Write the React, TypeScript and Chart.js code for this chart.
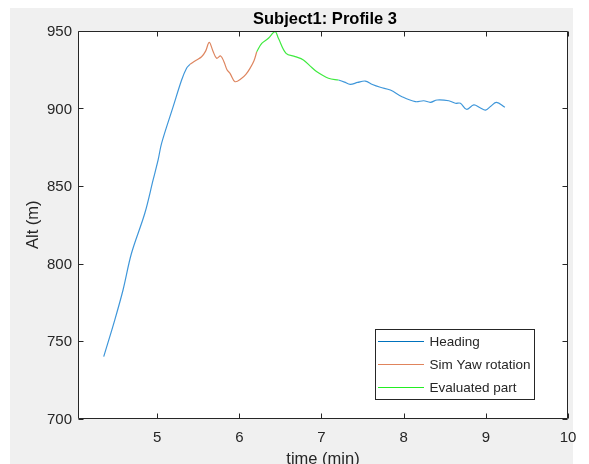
import React, { useEffect, useRef } from "react";
import { Chart, registerables } from "chart.js";
Chart.register(...registerables);

// ---- data (time in minutes, altitude in metres) ----
const headingTime = [
  4.35, 4.484, 4.585, 4.688, 4.85, 4.951, 5.012, 5.054, 5.195, 5.298, 5.358, 5.4,
  6.7,
  7.207, 7.28, 7.35, 7.44, 7.533, 7.62, 7.716, 7.838, 7.98, 8.143, 8.244, 8.326, 8.407, 8.549,
  8.63, 8.691, 8.765, 8.854, 8.93, 8.996, 9.06, 9.13, 9.232,
];
const headingAlt: (number | null)[] = [
  739.9, 763.5, 782.9, 806.6, 832.4, 853.9, 866.8, 877.5, 901.2, 918.4, 926, 928.5,
  null,
  918.4, 917, 915.6, 916.8, 917.7, 915.5, 913.7, 911.9, 907.6, 904.4, 905, 904, 905.5, 905,
  903.4, 903.4, 899.5, 902.3, 900.5, 899, 901.5, 904, 900.8,
];
const simYawTime = [
  5.4, 5.47, 5.541, 5.59, 5.634, 5.68, 5.724, 5.773, 5.813, 5.85, 5.887, 5.948, 6.029, 6.08,
  6.13, 6.18, 6.212,
];
const simYawAlt = [
  928.5, 931, 933.4, 937, 942.7, 937, 932.4, 933.9, 930.2, 925, 922.7, 917.3, 919.5, 922,
  925.9, 931, 936.6,
];
const evalTime = [
  6.212, 6.273, 6.354, 6.435, 6.476, 6.569, 6.68, 6.78, 6.86, 6.944, 7.085, 7.207,
];
const evalAlt = [
  936.6, 942, 945.3, 949.6, 945.3, 935.6, 933.5, 931.3, 927.5, 923.7, 919.5, 918.4,
];
const xTicks = [5, 6, 7, 8, 9, 10];
const yTicks = [700, 750, 800, 850, 900, 950];
const seriesNames = ["Heading", "Sim Yaw rotation", "Evaluated part"];
const legendColors = ["#0072BD", "#E0845C", "#22EE22"];
const curveColors = ["#3F97DA", "#DE8660", "#3FEA3F"];
const titleText = "Subject1: Profile 3";
const xLabel = "time (min)";
const yLabel = "Alt (m)";

const FONT = '"Liberation Sans", Arial, sans-serif';
const AXIS_COLOR = "#262626";

export default function App() {
  const ref = useRef<HTMLCanvasElement>(null);

  useEffect(() => {
    document.body.style.margin = "0";
    const canvas = ref.current!;
    const toPts = (t: number[], a: (number | null)[]) => t.map((x, i) => ({ x, y: a[i] }));

    const decor = {
      id: "decor",
      beforeDraw(chart: any) {
        const ctx = chart.ctx;
        const a = chart.chartArea;
        ctx.save();
        ctx.fillStyle = "#ffffff";
        ctx.fillRect(0, 0, 589, 464);
        ctx.fillStyle = "#f0f0f0";
        ctx.fillRect(10, 8, 563, 456);
        ctx.fillStyle = "#ffffff";
        ctx.fillRect(a.left, a.top, a.right - a.left, a.bottom - a.top);
        ctx.restore();
      },
      afterDraw(chart: any) {
        const ctx = chart.ctx;
        const a = chart.chartArea;
        const xs = chart.scales.x;
        const ys = chart.scales.y;
        ctx.save();
        ctx.strokeStyle = AXIS_COLOR;
        ctx.lineWidth = 1;
        const L = Math.round(a.left) + 0.5;
        const R = Math.round(a.right) - 0.5;
        const T = Math.round(a.top) + 0.5;
        const B = Math.round(a.bottom) - 0.5;
        ctx.beginPath();
        ctx.rect(L, T, R - L, B - T);
        ctx.stroke();
        const tl = 5;
        ctx.beginPath();
        xTicks.forEach((v) => {
          const px = Math.round(xs.getPixelForValue(v)) + 0.5;
          ctx.moveTo(px, B);
          ctx.lineTo(px, B - tl);
          ctx.moveTo(px, T);
          ctx.lineTo(px, T + tl);
        });
        yTicks.forEach((v) => {
          const py = Math.round(ys.getPixelForValue(v)) + 0.5;
          ctx.moveTo(L, py);
          ctx.lineTo(L + tl, py);
          ctx.moveTo(R, py);
          ctx.lineTo(R - tl, py);
        });
        ctx.stroke();

        // tick labels
        ctx.fillStyle = AXIS_COLOR;
        ctx.font = `15px ${FONT}`;
        ctx.textBaseline = "alphabetic";
        ctx.textAlign = "right";
        yTicks.forEach((v) => {
          const py = ys.getPixelForValue(v);
          ctx.fillText(String(v), a.left - 6, py + 5.4);
        });
        ctx.textAlign = "center";
        xTicks.forEach((v) => {
          const px = xs.getPixelForValue(v);
          ctx.fillText(String(v), px, 442);
        });

        // axis labels
        const cx = (a.left + a.right) / 2;
        const cy = (a.top + a.bottom) / 2;
        ctx.font = `16.5px ${FONT}`;
        ctx.fillText(xLabel, cx, 464);
        ctx.save();
        ctx.translate(38, cy);
        ctx.rotate(-Math.PI / 2);
        ctx.textAlign = "center";
        ctx.fillText(yLabel, 0, 0);
        ctx.restore();

        // title
        ctx.fillStyle = "#000000";
        ctx.font = `bold 16.5px ${FONT}`;
        ctx.textAlign = "center";
        ctx.fillText(titleText, cx + 2, 23.5);

        // legend
        const lx = 375.5, ly = 329.5, lw = 159, lh = 70;
        ctx.fillStyle = "#ffffff";
        ctx.fillRect(lx, ly, lw, lh);
        ctx.strokeStyle = AXIS_COLOR;
        ctx.strokeRect(lx, ly, lw, lh);
        ctx.font = `13.5px ${FONT}`;
        ctx.textAlign = "left";
        const rows = [341, 364, 386.7];
        seriesNames.forEach((name, i) => {
          const y = Math.round(rows[i]) + 0.5;
          ctx.strokeStyle = legendColors[i];
          ctx.beginPath();
          ctx.moveTo(378, y);
          ctx.lineTo(424, y);
          ctx.stroke();
          ctx.fillStyle = AXIS_COLOR;
          ctx.fillText(name, 429.5, rows[i] + 5.2);
        });
        ctx.restore();
      },
    };

    const lineOpts = {
      borderWidth: 1.2,
      pointRadius: 0,
      tension: 0.35,
      spanGaps: false,
      fill: false,
    };

    const chart = new Chart(canvas, {
      type: "line",
      data: {
        datasets: [
          { label: seriesNames[2], data: toPts(evalTime, evalAlt), borderColor: curveColors[2], order: 1, ...lineOpts },
          { label: seriesNames[1], data: toPts(simYawTime, simYawAlt), borderColor: curveColors[1], order: 2, ...lineOpts },
          { label: seriesNames[0], data: toPts(headingTime, headingAlt), borderColor: curveColors[0], order: 3, ...lineOpts },
        ],
      },
      options: {
        animation: false,
        responsive: false,
        devicePixelRatio: 1,
        layout: { padding: { left: 0, top: 31, right: 21, bottom: 0 } },
        plugins: { legend: { display: false }, title: { display: false }, tooltip: { enabled: false } },
        scales: {
          x: {
            type: "linear",
            min: 4.037,
            max: 10,
            ticks: { display: false },
            grid: { display: false },
            border: { display: false },
            afterFit: (s: any) => { s.height = 45.5; },
          },
          y: {
            type: "linear",
            min: 700,
            max: 950,
            ticks: { display: false },
            grid: { display: false },
            border: { display: false },
            afterFit: (s: any) => { s.width = 78; },
          },
        },
      },
      plugins: [decor],
    });
    return () => chart.destroy();
  }, []);

  return (
    <canvas
      ref={ref}
      width={589}
      height={464}
      style={{ display: "block", width: 589, height: 464 }}
    />
  );
}
